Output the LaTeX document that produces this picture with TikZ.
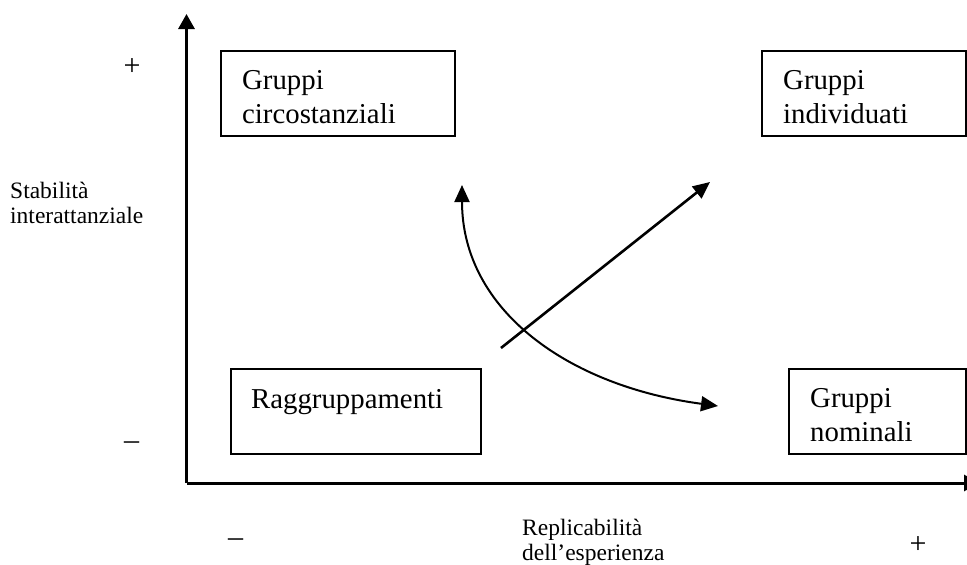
\documentclass[tikz,border=0pt]{standalone}
\usepackage{fontspec}
\setmainfont{Liberation Serif}
\usetikzlibrary{arrows.meta}

\begin{document}
\begin{tikzpicture}[
  x=1pt, y=-1pt,
  axis/.style={line width=3pt, -{Triangle[length=15pt,width=16pt]}},
  flow/.style={line width=2.6pt, -{Triangle[length=17pt,width=15pt]}},
  swing/.style={line width=2pt, {Triangle[length=17pt,width=15pt]}-{Triangle[length=17pt,width=15pt]}},
  groupbox/.style={draw, line width=1.8pt, minimum height=85pt, inner sep=0pt},
  boxtext/.style={anchor=base west, align=left, inner sep=0pt,
    font=\fontsize{28.8}{34}\selectfont},
  axislabel/.style={anchor=base west, align=left, inner sep=0pt,
    font=\fontsize{23.5}{25}\selectfont},
  sign/.style={anchor=center, inner sep=0pt, font=\fontsize{30}{34}\selectfont}
]
\useasboundingbox (0,0) rectangle (967,565);

% axes
\coordinate (O) at (186.5,483);
\coordinate (ytip) at (186.5,14);
\coordinate (xtip) at (979,483);
\draw[axis] (O) -- (ytip);
\draw[axis] (O) -- (xtip);

% quadrant boxes
\node[groupbox, minimum width=234pt] (b1) at (338,93.5) {};
\node[groupbox, minimum width=204pt] (b2) at (864,93.5) {};
\node[groupbox, minimum width=250pt] (b3) at (356,411.5) {};
\node[groupbox, minimum width=177pt] (b4) at (877.5,411.5) {};

% texts, placed on the baseline of their last line
\node[boxtext] (t1) at (242,123) {Gruppi\\circostanziali};
\node[boxtext] (t2) at (783,123) {Gruppi\\individuati};
\node[boxtext] (t3) at (251,408) {Raggruppamenti};
\node[boxtext] (t4) at (810,441) {Gruppi\\nominali};

% axis labels and signs
\node[axislabel] (ly) at (10,223) {Stabilità\\interattanziale};
\node[axislabel] (lx) at (522,560) {Replicabilità\\dell’esperienza};
\node[sign] (yplus) at (132,67) {+};
\node[sign] (yminus) at (131.5,446) {–};
\node[sign] (xminus) at (235.5,543) {–};
\node[sign] (xplus) at (918,545) {+};

% transitions between the groups
\coordinate (s1) at (501,348);
\coordinate (s2) at (710,182);
\draw[flow] (s1) -- (s2);

\coordinate (c1) at (462,185);
\coordinate (c2) at (718,406);
\draw[swing] (c1) .. controls (462,310) and (568,386) .. (c2);
\end{tikzpicture}
\end{document}
